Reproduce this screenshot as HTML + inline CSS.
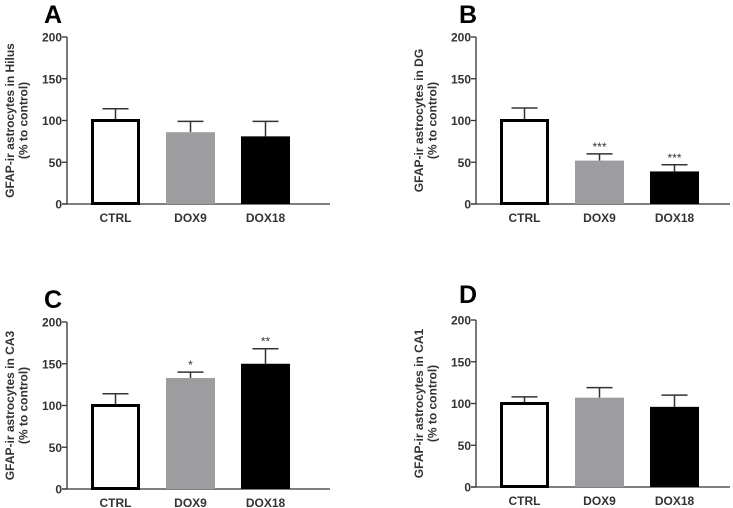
<!DOCTYPE html>
<html><head><meta charset="utf-8"><style>
html,body{margin:0;padding:0;background:#fff;}
svg{display:block;font-family:"Liberation Sans",Arial,sans-serif;}
</style></head><body>
<svg id="c" width="733" height="508" viewBox="0 0 733 508"></svg>
<script>
const categories = ["CTRL","DOX9","DOX18"];
const panelLetters = ["A","B","C","D"];
const regions = ["Hilus","DG","CA3","CA1"];
const meansA = [100,86,81], errA = [14,13,18], starsA = ["","",""];
const meansB = [100,52,39], errB = [15,8,8], starsB = ["","***","***"];
const meansC = [100,133,150], errC = [14,7,18], starsC = ["","*","**"];
const meansD = [100,107,96], errD = [8,12,14], starsD = ["","",""];
const yTicks = [0,50,100,150,200];

const NS="http://www.w3.org/2000/svg";
const svg=document.getElementById('c');
function mk(tag,attrs,parent){const e=document.createElementNS(NS,tag);for(const k in attrs)e.setAttribute(k,attrs[k]);(parent||svg).appendChild(e);return e;}

const layouts=[
 {ax:67,y0:204,y200:37,end:330,lx:44,ly:23,means:meansA,errs:errA,stars:starsA},
 {ax:476,y0:204,y200:37,end:730,lx:459,ly:23,means:meansB,errs:errB,stars:starsB},
 {ax:67,y0:489,y200:322,end:330,lx:44,ly:308,means:meansC,errs:errC,stars:starsC},
 {ax:476,y0:487,y200:320,end:730,lx:459,ly:303,means:meansD,errs:errD,stars:starsD}
];
const fills=["#fff","#9d9d9f","#000"];

layouts.forEach((L,pi)=>{
  const g=mk('g',{});
  
  
  const y=v=>L.y0-(v/200)*(L.y0-L.y200);
  const barX=i=>L.ax+24+i*75;
  const t=mk('text',{x:L.lx,y:L.ly,'font-size':25,'font-weight':'bold'},g);
  t.textContent=panelLetters[pi];
  
  
  const ya=mk('line',{x1:L.ax,y1:L.y200,x2:L.ax,y2:L.y0,stroke:'#333','stroke-width':1.3},g);
  
  
  const xa=mk('line',{x1:L.ax-5,y1:L.y0,x2:L.end,y2:L.y0,stroke:'#333','stroke-width':1.3},g);
  
  
  yTicks.forEach(v=>{
    mk('line',{x1:L.ax-5,x2:L.ax,y1:y(v),y2:y(v),stroke:'#333','stroke-width':1.3},g);
    const tl=mk('text',{x:L.ax-5,y:y(v)+4.5,'font-size':12,'font-weight':'bold','text-anchor':'end',fill:'#333'},g);
    tl.textContent=v;
    
    
  });
  const cy=(L.y0+L.y200)/2;
  const yt=mk('text',{transform:`translate(${L.ax-53},${cy}) rotate(-90)`,'font-size':12,'font-weight':'bold','text-anchor':'middle',fill:'#333'},g);
  
  
  const s1=mk('tspan',{x:0,dy:0},yt); s1.textContent='GFAP-ir astrocytes in '+regions[pi];
  const s2=mk('tspan',{x:0,dy:13.5},yt); s2.textContent='(% to control)';
  categories.forEach((c,i)=>{
    const x=barX(i), w=49, top=y(L.means[i]);
    const et=y(L.means[i]+L.errs[i]);
    const el=mk('line',{x1:x+w/2,x2:x+w/2,y1:top,y2:et,stroke:'#333','stroke-width':1.5},g);
    
    
    mk('line',{x1:x+w/2-13,x2:x+w/2+13,y1:et,y2:et,stroke:'#333','stroke-width':1.5},g);
    let r;
    if(i===0) r=mk('rect',{x:x+1.5,y:top,width:w-3,height:L.y0-top-0.5,fill:'#fff',stroke:'#000','stroke-width':3},g);
    else r=mk('rect',{x:x,y:top,width:w,height:L.y0-top,fill:fills[i]},g);
    
    
    if(L.stars[i]){
      const st=mk('text',{x:x+w/2,y:et-3,'font-size':12,'text-anchor':'middle',fill:'#333'},g);
      st.textContent=L.stars[i];
      
      
    }
    const xl=mk('text',{x:x+w/2,y:L.y0+18,'font-size':12,'font-weight':'bold','text-anchor':'middle',fill:'#333'},g);
    xl.textContent=c;
    
    
  });
});
</script>
</body></html>
